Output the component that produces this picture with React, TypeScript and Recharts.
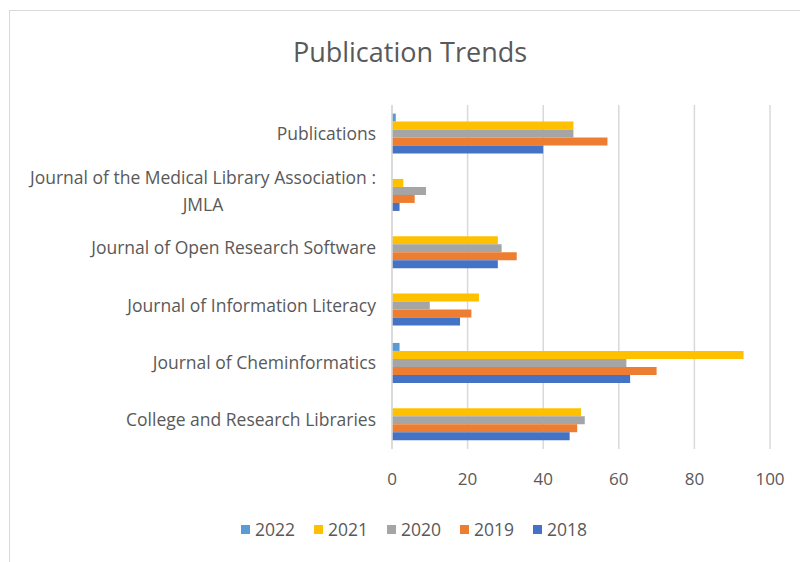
import React from "react";
import { BarChart, Bar, XAxis, YAxis, CartesianGrid, Legend } from "recharts";

const categories = [
  "Publications",
  "Journal of the Medical Library Association : JMLA",
  "Journal of Open Research Software",
  "Journal of Information Literacy",
  "Journal of Cheminformatics",
  "College and Research Libraries",
];
const s2022 = [1, 0, 0, 0, 2, 0];
const s2021 = [48, 3, 28, 23, 93, 50];
const s2020 = [48, 9, 29, 10, 62, 51];
const s2019 = [57, 6, 33, 21, 70, 49];
const s2018 = [40, 2, 28, 18, 63, 47];
const seriesNames = ["2022", "2021", "2020", "2019", "2018"];
const seriesColors = ["#5B9BD5", "#FFC000", "#A5A5A5", "#ED7D31", "#4472C4"];
const xTicks = [0, 20, 40, 60, 80, 100];

const data = categories.map((name, i) => ({
  name,
  "2022": s2022[i],
  "2021": s2021[i],
  "2020": s2020[i],
  "2019": s2019[i],
  "2018": s2018[i],
}));

const FONT = "'Open Sans', sans-serif";
const LABEL_SIZE = 17.5;
const TEXT_COLOR = "#595959";

let canvasCtx: CanvasRenderingContext2D | null = null;
function measure(text: string, size: number): number {
  if (typeof document === "undefined") return text.length * size * 0.5;
  if (!canvasCtx) {
    const c = document.createElement("canvas");
    canvasCtx = c.getContext("2d");
  }
  if (!canvasCtx) return text.length * size * 0.5;
  canvasCtx.font = `${size}px 'Open Sans'`;
  return canvasCtx.measureText(text).width;
}

function wrap(text: string, maxW: number, size: number): string[] {
  const words = text.split(" ");
  const lines: string[] = [];
  let cur = "";
  for (const w of words) {
    const test = cur ? cur + " " + w : w;
    if (cur && measure(test, size) > maxW) {
      lines.push(cur);
      cur = w;
    } else {
      cur = test;
    }
  }
  if (cur) lines.push(cur);
  return lines;
}

const CategoryTick = (props: any) => {
  const { x, y, payload } = props;
  const lines = wrap(String(payload.value), 360, LABEL_SIZE);
  const lineH = 27;
  if (lines.length === 1) {
    return (
      <text x={x} y={y} dy="0.35em" textAnchor="end" fill={TEXT_COLOR} fontSize={LABEL_SIZE} fontFamily={FONT}>
        {lines[0]}
      </text>
    );
  }
  const maxW = Math.max(...lines.map((l) => measure(l, LABEL_SIZE)));
  const cx = x - maxW / 2;
  const startY = y - ((lines.length - 1) * lineH) / 2;
  return (
    <g>
      {lines.map((l, i) => (
        <text key={i} x={cx} y={startY + i * lineH} dy="0.35em" textAnchor="middle" fill={TEXT_COLOR} fontSize={LABEL_SIZE} fontFamily={FONT}>
          {l}
        </text>
      ))}
    </g>
  );
};

const LegendContent = (props: any) => {
  const items = [...(props.payload || [])].sort(
    (a: any, b: any) => seriesNames.indexOf(String(a.value)) - seriesNames.indexOf(String(b.value))
  );
  return (
    <div style={{ display: "flex", justifyContent: "center", alignItems: "center" }}>
      {items.map((p: any, i: number) => (
        <div key={i} style={{ display: "flex", alignItems: "center", marginLeft: i === 0 ? 0 : 19 }}>
          <div style={{ width: 9, height: 9, background: p.color, marginRight: 5 }} />
          <span style={{ fontFamily: FONT, fontSize: 17.5, color: TEXT_COLOR, lineHeight: "24px" }}>{p.value}</span>
        </div>
      ))}
    </div>
  );
};

export default function App() {
  return (
    <div style={{ position: "absolute", left: 0, top: 0, width: 800, height: 562, overflow: "hidden", background: "#fff" }}>
      <div
        style={{
          position: "absolute",
          left: 9,
          top: 10,
          width: 820,
          height: 580,
          borderTop: "1.5px solid #D9D9D9",
          borderLeft: "1.5px solid #D9D9D9",
        }}
      />
      <div
        style={{
          position: "absolute",
          left: 10,
          width: 800,
          top: 33,
          textAlign: "center",
          fontFamily: FONT,
          fontSize: 27,
          color: TEXT_COLOR,
          lineHeight: "38px",
        }}
      >
        Publication Trends
      </div>
      <div style={{ position: "absolute", left: 0, top: 0 }}>
        <BarChart
          width={800}
          height={562}
          data={data}
          layout="vertical"
          margin={{ top: 105, right: 30, bottom: 63, left: 0 }}
          barCategoryGap="15%"
          barGap={0}
        >
          <CartesianGrid horizontal={false} stroke="#D9D9D9" strokeWidth={1.5} />
          <XAxis
            type="number"
            domain={[0, 100]}
            ticks={xTicks}
            axisLine={false}
            tickLine={false}
            tickSize={0}
            tickMargin={24}
            height={50}
            tick={{ fill: TEXT_COLOR, fontSize: 17, fontFamily: FONT }}
          />
          <YAxis
            type="category"
            dataKey="name"
            width={392}
            axisLine={{ stroke: "#D9D9D9", strokeWidth: 1.5 }}
            tickLine={false}
            tickSize={0}
            tickMargin={16}
            interval={0}
            tick={<CategoryTick />}
          />
          <Legend
            layout="horizontal"
            verticalAlign="middle"
            align="center"
            wrapperStyle={{ top: 517, left: 0, width: 828 }}
            content={<LegendContent />}
          />
          {seriesNames.map((s, i) => (
            <Bar key={s} dataKey={s} name={s} fill={seriesColors[i]} isAnimationActive={false} />
          ))}
        </BarChart>
      </div>
    </div>
  );
}
